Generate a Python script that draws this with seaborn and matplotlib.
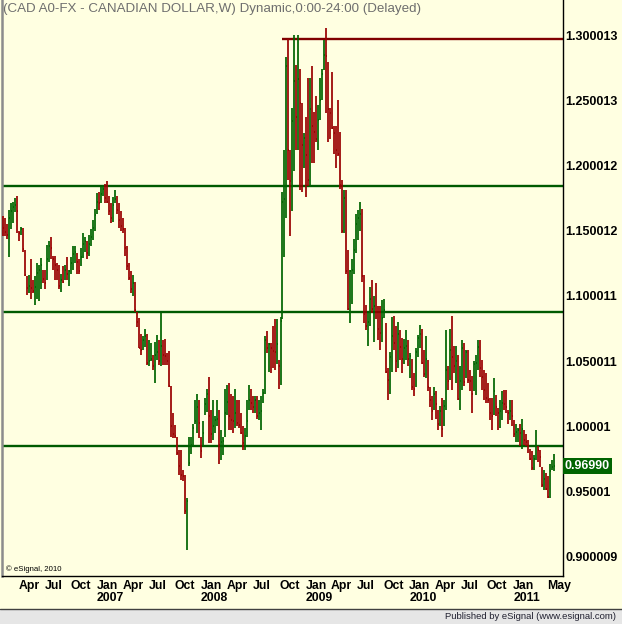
import pandas as pd
import numpy as np
import matplotlib
matplotlib.use("Agg")
import matplotlib.pyplot as plt
import matplotlib.dates as mdates
from matplotlib.patches import Rectangle
from matplotlib.lines import Line2D
import seaborn as sns

# weekly CAD bars (high / low / close)
highs = [
    1.161, 1.160, 1.155, 1.166, 1.171, 1.172, 1.175, 1.177, 1.150, 1.153,
    1.152, 1.135, 1.115, 1.116, 1.128, 1.112, 1.115, 1.125, 1.124, 1.129,
    1.120, 1.120, 1.139, 1.142, 1.145, 1.131, 1.131, 1.125, 1.124, 1.117,
    1.123, 1.124, 1.130, 1.120, 1.130, 1.138, 1.138, 1.133, 1.128, 1.137,
    1.148, 1.145, 1.142, 1.147, 1.151, 1.158, 1.167, 1.179, 1.180, 1.184,
    1.185, 1.186, 1.188, 1.177, 1.171, 1.176, 1.181, 1.177, 1.171, 1.165,
    1.160, 1.152, 1.138, 1.125, 1.119, 1.116, 1.111, 1.088, 1.083, 1.071,
    1.069, 1.075, 1.071, 1.066, 1.064, 1.055, 1.065, 1.070, 1.066, 1.087,
    1.066, 1.067, 1.056, 1.058, 1.031, 1.010, 1.001, 0.992, 0.982, 0.982,
    0.967, 0.963, 0.945, 0.992, 0.992, 1.002, 1.020, 1.025, 1.020, 0.992,
    1.004, 1.022, 1.029, 1.038, 1.013, 1.020, 1.008, 1.020, 1.013, 0.997,
    0.992, 1.029, 1.032, 1.033, 1.025, 1.023, 1.029, 1.020, 1.020, 1.010,
    1.000, 0.999, 1.020, 1.032, 1.029, 1.023, 1.023, 1.023, 1.020, 1.023,
    1.029, 1.069, 1.073, 1.064, 1.064, 1.077, 1.082, 1.082, 1.051, 1.084,
    1.180, 1.212, 1.283, 1.297, 1.212, 1.244, 1.300, 1.277, 1.300, 1.274,
    1.248, 1.225, 1.237, 1.267, 1.267, 1.276, 1.241, 1.253, 1.246, 1.267,
    1.274, 1.296, 1.305, 1.279, 1.244, 1.272, 1.230, 1.230, 1.250, 1.226,
    1.189, 1.181, 1.181, 1.135, 1.120, 1.128, 1.144, 1.163, 1.166, 1.172,
    1.167, 1.116, 1.093, 1.087, 1.107, 1.112, 1.100, 1.110, 1.092, 1.092,
    1.097, 1.098, 1.079, 1.045, 1.057, 1.084, 1.085, 1.077, 1.080, 1.074,
    1.068, 1.067, 1.074, 1.066, 1.056, 1.052, 1.041, 1.060, 1.070, 1.078,
    1.075, 1.059, 1.069, 1.051, 1.030, 1.023, 1.030, 1.027, 1.013, 1.016,
    1.022, 1.020, 1.074, 1.046, 1.075, 1.085, 1.062, 1.062, 1.055, 1.046,
    1.066, 1.064, 1.059, 1.059, 1.043, 1.039, 1.050, 1.055, 1.066, 1.066,
    1.051, 1.043, 1.041, 1.033, 1.022, 1.022, 1.037, 1.024, 1.014, 1.020,
    1.027, 1.028, 1.028, 1.013, 1.020, 1.020, 1.005, 1.002, 0.999, 1.002,
    1.006, 0.997, 0.994, 0.990, 0.983, 0.981, 0.978, 0.997, 0.985, 0.982,
    0.969, 0.967, 0.964, 0.962, 0.971, 0.974, 0.979,
]
lows = [
    1.146, 1.146, 1.144, 1.130, 1.151, 1.156, 1.164, 1.148, 1.142, 1.147,
    1.134, 1.115, 1.101, 1.102, 1.098, 1.102, 1.093, 1.098, 1.096, 1.105,
    1.110, 1.105, 1.112, 1.126, 1.128, 1.120, 1.112, 1.112, 1.105, 1.103,
    1.110, 1.112, 1.112, 1.108, 1.117, 1.120, 1.125, 1.117, 1.117, 1.123,
    1.129, 1.134, 1.128, 1.131, 1.138, 1.143, 1.150, 1.163, 1.166, 1.171,
    1.177, 1.171, 1.171, 1.162, 1.156, 1.157, 1.171, 1.163, 1.152, 1.150,
    1.148, 1.131, 1.120, 1.112, 1.102, 1.100, 1.088, 1.076, 1.060, 1.055,
    1.059, 1.061, 1.047, 1.046, 1.050, 1.043, 1.033, 1.051, 1.047, 1.046,
    1.047, 1.047, 1.047, 1.030, 0.992, 0.991, 0.991, 0.978, 0.963, 0.959,
    0.958, 0.933, 0.905, 0.970, 0.979, 0.985, 1.002, 0.995, 0.991, 0.976,
    0.985, 1.009, 1.011, 0.987, 0.987, 0.990, 0.995, 1.000, 0.971, 0.974,
    0.978, 0.992, 1.009, 0.997, 0.997, 0.995, 0.999, 1.000, 0.999, 0.994,
    0.982, 0.982, 0.992, 1.013, 1.013, 1.010, 1.010, 1.006, 1.005, 0.997,
    1.018, 1.025, 1.056, 1.042, 1.041, 1.045, 1.043, 1.048, 1.029, 1.032,
    1.082, 1.130, 1.160, 1.189, 1.146, 1.165, 1.196, 1.212, 1.212, 1.181,
    1.180, 1.198, 1.176, 1.184, 1.184, 1.202, 1.202, 1.218, 1.212, 1.235,
    1.250, 1.273, 1.240, 1.218, 1.220, 1.228, 1.209, 1.198, 1.207, 1.182,
    1.148, 1.148, 1.117, 1.089, 1.079, 1.094, 1.117, 1.133, 1.143, 1.150,
    1.111, 1.079, 1.074, 1.062, 1.077, 1.087, 1.065, 1.082, 1.066, 1.059,
    1.065, 1.083, 1.041, 1.020, 1.025, 1.042, 1.059, 1.042, 1.045, 1.051,
    1.041, 1.048, 1.051, 1.046, 1.037, 1.028, 1.023, 1.030, 1.053, 1.060,
    1.048, 1.038, 1.037, 1.027, 1.015, 1.005, 1.013, 1.006, 0.997, 1.000,
    0.992, 1.000, 1.013, 1.028, 1.036, 1.028, 1.041, 1.033, 1.020, 1.013,
    1.028, 1.031, 1.037, 1.033, 1.027, 1.010, 1.027, 1.024, 1.043, 1.038,
    1.028, 1.020, 1.018, 1.018, 1.005, 0.997, 1.009, 1.008, 0.997, 0.999,
    1.005, 1.013, 1.010, 1.002, 1.005, 1.000, 0.992, 0.988, 0.988, 0.985,
    0.983, 0.986, 0.985, 0.980, 0.974, 0.967, 0.967, 0.974, 0.973, 0.969,
    0.954, 0.951, 0.951, 0.945, 0.945, 0.967, 0.966,
]
closes = [
    1.152, 1.149, 1.147, 1.160, 1.165, 1.168, 1.170, 1.165, 1.148, 1.151,
    1.136, 1.116, 1.106, 1.108, 1.106, 1.104, 1.107, 1.118, 1.120, 1.124,
    1.113, 1.110, 1.128, 1.138, 1.137, 1.128, 1.124, 1.120, 1.108, 1.112,
    1.111, 1.120, 1.117, 1.119, 1.125, 1.132, 1.134, 1.126, 1.119, 1.130,
    1.140, 1.142, 1.133, 1.140, 1.145, 1.152, 1.162, 1.172, 1.171, 1.178,
    1.182, 1.175, 1.172, 1.165, 1.160, 1.170, 1.174, 1.166, 1.158, 1.154,
    1.151, 1.137, 1.123, 1.114, 1.105, 1.110, 1.089, 1.080, 1.060, 1.059,
    1.066, 1.069, 1.049, 1.050, 1.052, 1.046, 1.055, 1.057, 1.050, 1.062,
    1.055, 1.054, 1.050, 1.031, 1.000, 0.994, 0.993, 0.980, 0.970, 0.963,
    0.962, 0.935, 0.943, 0.972, 0.986, 0.999, 1.004, 1.015, 1.003, 0.981,
    0.995, 1.017, 1.025, 1.008, 0.994, 1.000, 1.005, 1.006, 0.986, 0.988,
    0.989, 1.010, 1.019, 1.008, 1.005, 1.004, 1.010, 1.003, 1.001, 0.995,
    0.987, 0.993, 1.004, 1.020, 1.018, 1.015, 1.020, 1.008, 1.010, 1.012,
    1.026, 1.066, 1.060, 1.063, 1.060, 1.058, 1.057, 1.063, 1.046, 1.081,
    1.172, 1.174, 1.276, 1.212, 1.188, 1.234, 1.265, 1.237, 1.266, 1.248,
    1.216, 1.221, 1.208, 1.189, 1.243, 1.230, 1.226, 1.220, 1.235, 1.250,
    1.270, 1.285, 1.284, 1.243, 1.240, 1.229, 1.225, 1.212, 1.209, 1.185,
    1.150, 1.175, 1.119, 1.090, 1.119, 1.120, 1.135, 1.155, 1.160, 1.163,
    1.115, 1.086, 1.077, 1.080, 1.098, 1.090, 1.092, 1.088, 1.075, 1.072,
    1.083, 1.089, 1.042, 1.036, 1.053, 1.069, 1.064, 1.050, 1.071, 1.061,
    1.052, 1.060, 1.062, 1.052, 1.054, 1.030, 1.029, 1.057, 1.068, 1.071,
    1.049, 1.040, 1.052, 1.030, 1.020, 1.012, 1.025, 1.017, 1.002, 1.012,
    0.998, 1.016, 1.043, 1.035, 1.059, 1.053, 1.046, 1.050, 1.021, 1.035,
    1.060, 1.034, 1.057, 1.036, 1.035, 1.025, 1.048, 1.049, 1.061, 1.045,
    1.038, 1.028, 1.022, 1.020, 1.010, 1.008, 1.027, 1.015, 1.010, 1.012,
    1.018, 1.017, 1.015, 1.010, 1.012, 1.008, 0.994, 0.996, 0.997, 0.995,
    0.998, 0.990, 0.988, 0.985, 0.975, 0.968, 0.975, 0.985, 0.982, 0.977,
    0.955, 0.960, 0.952, 0.946, 0.966, 0.969, 0.9699,
]
first_week = "2006-02-06"

support_levels = [1.1843, 1.0880, 0.9853]
resistance_level = 1.2969
resistance_start = "2008-10-10"

y_ticks = [1.30, 1.25, 1.20, 1.15, 1.10, 1.05, 1.00, 0.95, 0.90]
y_tick_labels = ["1.300013", "1.250013", "1.200012", "1.150012", "1.100011",
                 "1.050011", "1.00001", "0.95001", "0.900009"]
x_tick_dates = ["2006-04-01", "2006-07-01", "2006-10-01",
                "2007-01-01", "2007-04-01", "2007-07-01", "2007-10-01",
                "2008-01-01", "2008-04-01", "2008-07-01", "2008-10-01",
                "2009-01-01", "2009-04-01", "2009-07-01", "2009-10-01",
                "2010-01-01", "2010-04-01", "2010-07-01", "2010-10-01",
                "2011-01-01", "2011-05-01"]
x_tick_labels = ["Apr", "Jul", "Oct",
                 "Jan\n2007", "Apr", "Jul", "Oct",
                 "Jan\n2008", "Apr", "Jul", "Oct",
                 "Jan\n2009", "Apr", "Jul", "Oct",
                 "Jan\n2010", "Apr", "Jul", "Oct",
                 "Jan\n2011", "May"]

BG = "#FFFFE1"
UP = "#006400"
DOWN = "#990000"

sns.set_theme(style="white")
plt.rcParams["font.family"] = ["Liberation Sans", "DejaVu Sans"]

df = pd.DataFrame({"high": highs, "low": lows, "close": closes})
df["date"] = pd.date_range(first_week, periods=len(df), freq="7D")
df["x"] = mdates.date2num(df["date"])
df["up"] = df["close"].diff().fillna(-1) > 0
colors = np.where(df["up"], UP, DOWN)

fig = plt.figure(figsize=(6.22, 6.24), dpi=100, facecolor=BG)
ax = fig.add_axes([2 / 622, 48 / 624, 561 / 622, 576 / 624])
ax.set_facecolor(BG)

for lvl in support_levels:
    ax.axhline(lvl, color="#005A00", lw=1.7, zorder=1)
ax.hlines(resistance_level, mdates.date2num(pd.Timestamp(resistance_start)),
          mdates.date2num(pd.Timestamp("2011-07-01")), color="#800000", lw=1.7, zorder=1)

ax.vlines(df["x"], df["low"], df["high"], colors=colors, lw=1.25, zorder=3)
ax.hlines(df["close"], df["x"], df["x"] + 3.5, colors=colors, lw=1.25, zorder=3)

ax.set_xlim(mdates.date2num(pd.Timestamp("2006-02-01")),
            mdates.date2num(pd.Timestamp("2011-06-25")))
ax.set_ylim(0.88544, 1.32682)

ax.yaxis.tick_right()
ax.set_yticks(y_ticks)
ax.set_yticklabels(y_tick_labels, fontsize=9.0, fontweight="bold", color="black")
ax.set_xticks(mdates.date2num(pd.to_datetime(x_tick_dates)))
ax.set_xticklabels(x_tick_labels, fontsize=8.8, fontweight="bold", color="black",
                   linespacing=1.0)
for lbl in ax.get_xticklabels():
    lbl.set_horizontalalignment("left")
ax.tick_params(axis="x", length=0, pad=3)
ax.tick_params(axis="y", length=0, pad=1.5)
ax.grid(False)

ax.spines["top"].set_visible(False)
ax.spines["left"].set_color("#8C8C8C")
ax.spines["left"].set_linewidth(1.8)
ax.spines["right"].set_color("black")
ax.spines["right"].set_linewidth(1.0)
ax.spines["bottom"].set_color("black")
ax.spines["bottom"].set_linewidth(1.0)

ax.text(1 / 561, 1 - 9 / 576, "(CAD A0-FX - CANADIAN DOLLAR,W) Dynamic,0:00-24:00 (Delayed)",
        transform=ax.transAxes, ha="left", va="center", fontsize=9.6,
        color="#6E6E6E")
ax.text(4 / 561, 7 / 576, "\u00a9 eSignal, 2010", transform=ax.transAxes,
        ha="left", va="center", fontsize=5.6, color="black")

ax.text(1.003, closes[-1], f"{closes[-1]:.5f}", transform=ax.get_yaxis_transform(),
        ha="left", va="center", fontsize=9.0, fontweight="bold", color="white",
        bbox=dict(facecolor="#006400", edgecolor="none", pad=1.4), zorder=5)

fig.patches.append(Rectangle((0, 0), 1, 15 / 624, transform=fig.transFigure,
                             facecolor="#E6E6E6", edgecolor="none"))
fig.add_artist(Line2D([0, 1], [15.5 / 624, 15.5 / 624], color="#404040", lw=1.0))
fig.text(616 / 622, 7.5 / 624, "Published by eSignal (www.esignal.com)",
         ha="right", va="center", fontsize=6.8, color="#202030")

fig.savefig("out.png", dpi=100, facecolor=BG)
